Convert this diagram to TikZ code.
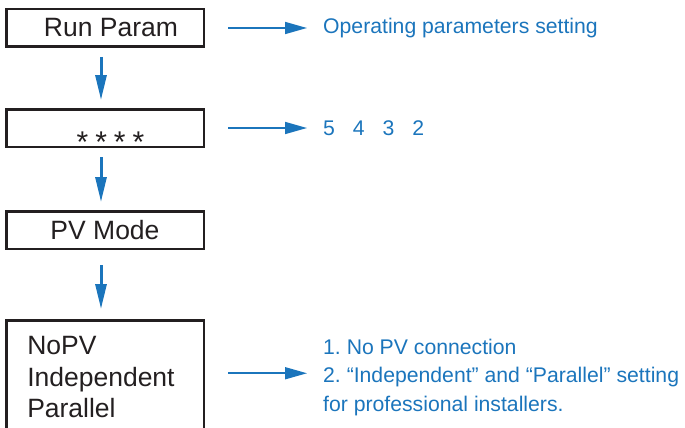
\documentclass[tikz,border=0pt]{standalone}
\usepackage{fontspec}
\setmainfont{Liberation Sans}
\usetikzlibrary{positioning,arrows.meta}
\definecolor{menublue}{RGB}{27,117,188}
\definecolor{menuframe}{RGB}{35,31,32}
\frenchspacing

\begin{document}
\begin{tikzpicture}[x=1pt, y=-1pt,
    menu box/.style={draw=menuframe, line width=2.5pt, minimum width=197.5pt,
                     minimum height=37.5pt, inner sep=0pt, text=menuframe,
                     font=\fontsize{26.5}{31.5}\selectfont},
    note/.style={inner sep=0pt, text=menublue, align=left,
                 font=\fontsize{21.2}{28.5}\selectfont},
    down arrow/.style={menublue, line width=3pt, -{Triangle[length=25pt,width=11pt]}},
    side arrow/.style={menublue, line width=1.6pt, shorten <=23pt, shorten >=16pt,
                       -{Triangle[length=22pt,width=12pt]}}]

  \clip (0,0) rectangle (685,428);

  \node[menu box] (run) at (105,28) {\hspace*{12pt}Run Param};
  \node[menu box] (pass) [below=60pt of run]
    {\raisebox{-24pt}[0pt][0pt]{\hspace*{11pt}\fontsize{30}{30}\selectfont*\hspace{7pt}*\hspace{7pt}*\hspace{7pt}*}};
  \node[menu box] (pvmode) [below=62pt of pass] {PV Mode};
  \node[menu box, minimum height=114pt, inner xsep=21pt, text width=155.5pt,
        align=left] (pvsel) [below=69pt of pvmode] {NoPV\\Independent\\Parallel};

  \node[note] (noterun) [right=118pt of run] {Operating parameters setting};
  \node[note] (notepass) [right=118pt of pass]
    {5\hspace{17.9pt}4\hspace{17.9pt}3\hspace{17.9pt}2};
  \node[note] (notepv) [right=118pt of pvsel]
    {1. No PV connection\\2. “Independent” and “Parallel” setting\\for professional installers.};

  \path
    ([xshift=-4pt]run.south) edge[down arrow, shorten <=9pt, shorten >=8pt] ([xshift=-4pt]pass.north)
    ([xshift=-4pt]pass.south) edge[down arrow, shorten <=9pt, shorten >=8pt] ([xshift=-4pt]pvmode.north)
    ([xshift=-4pt]pvmode.south) edge[down arrow, shorten <=15pt, shorten >=10pt] ([xshift=-4pt]pvsel.north)
    (run) edge[side arrow] (noterun)
    (pass) edge[side arrow] (notepass)
    ([yshift=4pt]pvsel.east) edge[side arrow] ([yshift=4pt]notepv.west);
\end{tikzpicture}
\end{document}
